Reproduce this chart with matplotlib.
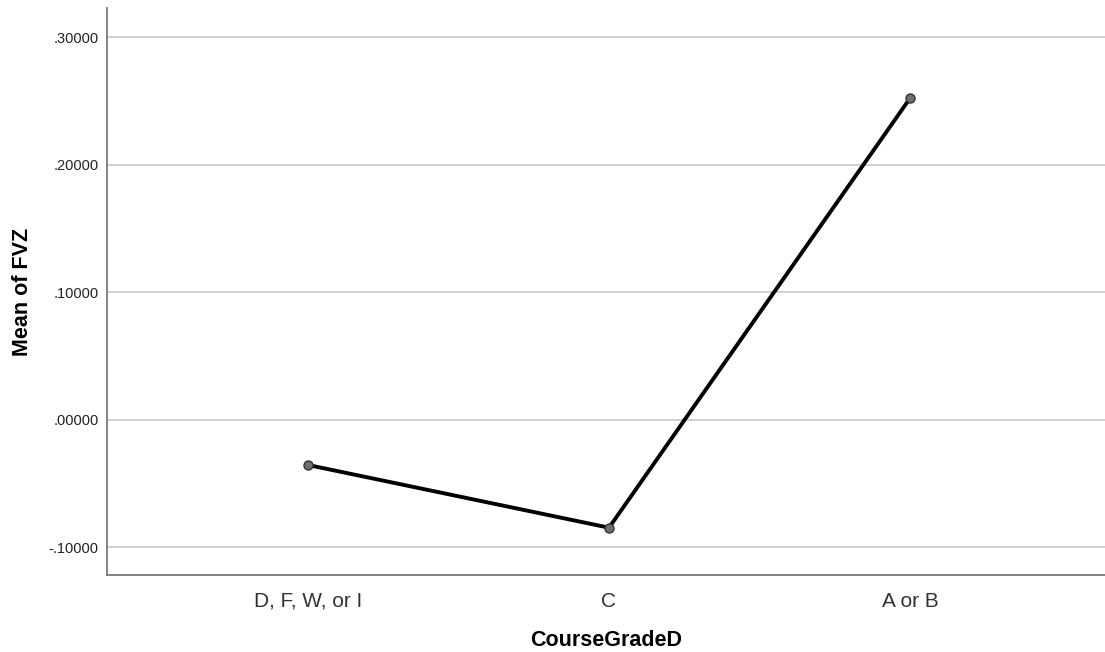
import numpy as np
import matplotlib
matplotlib.use('Agg')
from matplotlib import pyplot as plt

plt.rcParams['font.family'] = ['Liberation Sans', 'DejaVu Sans']

# -- Data --
categories = ['D, F, W, or I', 'C', 'A or B']
meanFVZ = [-0.0353, -0.0845, 0.2523]
yTicks = [-0.1, 0.0, 0.1, 0.2, 0.3]

fig = plt.figure(figsize=(11.05, 6.52), dpi=100)
ax = fig.add_axes([0.0968, 0.1181, 0.9032, 0.8696])

xVals = np.arange(len(categories))
ax.plot(xVals, meanFVZ, color='black', lw=2.8, zorder=3,
        marker='o', markersize=6.5, markerfacecolor='#6e6e6e',
        markeredgecolor='#333333', markeredgewidth=1)

ax.set_xlim(-0.668, 2.648)
ax.set_ylim(-0.1216, 0.3231)
ax.set_xticks(xVals)
ax.set_xticklabels(categories, fontsize=15, color='#333333')
ax.set_yticks(yTicks)
ax.set_yticklabels(['{:.5f}'.format(v).replace('0.', '.') for v in yTicks],
                   fontsize=10.5, color='#222222')
ax.tick_params(length=0)
ax.tick_params(axis='y', pad=6)
ax.tick_params(axis='x', pad=12)

ax.grid(axis='y', color='#c8c8c8', lw=1.2)
ax.set_axisbelow(True)
for side in ['top', 'right']:
    ax.spines[side].set_visible(False)
for side in ['left', 'bottom']:
    ax.spines[side].set_color('#7a7a7a')
    ax.spines[side].set_linewidth(1.3)

ax.set_xlabel('CourseGradeD', fontsize=15.5, fontweight='bold', labelpad=14)
ax.set_ylabel('Mean of FVZ', fontsize=15.5, fontweight='bold')
ax.yaxis.set_label_coords(-0.0842, 0.5)
ax.yaxis.label.set_verticalalignment('center')

fig.savefig('out.png', dpi=100)
